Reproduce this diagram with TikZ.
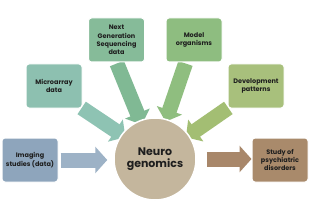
\documentclass[tikz,border=0pt]{standalone}
\usepackage{fontspec}
\setmainfont{Poppins}
\usetikzlibrary{arrows.meta,calc}
\pgfdeclarelayer{bg}
\pgfsetlayers{bg,main}
\definecolor{imgbox}{HTML}{8EA5BC}
\definecolor{imgarr}{HTML}{9DB2C6}
\definecolor{micbox}{HTML}{8DC0B0}
\definecolor{micarr}{HTML}{8EC3B3}
\definecolor{ngsbox}{HTML}{86BB99}
\definecolor{ngsarr}{HTML}{80B994}
\definecolor{modbox}{HTML}{8EBD80}
\definecolor{modarr}{HTML}{8FBE7F}
\definecolor{devbox}{HTML}{A8C07C}
\definecolor{devarr}{HTML}{A3BE73}
\definecolor{stdbox}{HTML}{A98A6B}
\definecolor{stdarr}{HTML}{A8876A}
\definecolor{neufill}{HTML}{C4B69D}
\definecolor{txt}{HTML}{1E1E1E}
\tikzset{
  infobox/.style={draw=white, line width=1pt, rounded corners=3pt, minimum width=56pt, minimum height=44pt,
    inner sep=1pt, align=center, text=txt, font=\fontsize{6.5}{8.3}\selectfont\bfseries},
  blockarrow/.style={line width=15pt, -{Triangle[width=26pt,length=12pt]}},
}
\begin{document}
\begin{tikzpicture}[x=1pt,y=-1pt]
\useasboundingbox (0,0) rectangle (310,219);
\begin{pgfonlayer}{bg}
\fill[white] (0,0) rectangle (310,219);
\end{pgfonlayer}
\node[infobox, fill=imgbox] (img) at (30,160) {Imaging\\studies (data)};
\node[infobox, fill=micbox] (mic) at (54,86) {Microarray\\data};
\node[infobox, fill=ngsbox] (ngs) at (116.5,40) {Next\\Generation\\Sequencing\\data};
\node[infobox, fill=modbox] (mod) at (194,40) {Model\\organisms};
\node[infobox, fill=devbox] (dev) at (256,86) {Development\\patterns};
\node[infobox, fill=stdbox] (std) at (280,160) {Study of\\psychiatric\\disorders};
\node[circle, draw=white, line width=1.5pt, fill=neufill, minimum size=82pt, inner sep=0pt, align=center,
  text=txt, font=\fontsize{11}{12.5}\selectfont\bfseries] (neu) at (155,159) {Neuro\\genomics};
\begin{pgfonlayer}{bg}
\draw[blockarrow, draw=imgarr, shorten <=2pt, shorten >=6pt] (img.east) -- (img.east -| neu.west);
\draw[blockarrow, draw=stdarr, shorten <=10pt] (neu.east) -- (neu.east -| std.west);
\draw[blockarrow, draw=micarr, shorten <=-1pt, shorten >=-5pt] (mic.south east) -- (neu.144);
\draw[blockarrow, draw=ngsarr, shorten <=1pt, shorten >=-5pt] (ngs.south) -- (neu.111);
\draw[blockarrow, draw=modarr, shorten <=1pt, shorten >=-3pt] (mod.250) -- (neu.74);
\draw[blockarrow, draw=devarr, shorten <=-1pt, shorten >=-4pt] (dev.south west) -- (neu.35);
\end{pgfonlayer}
\end{tikzpicture}
\end{document}
